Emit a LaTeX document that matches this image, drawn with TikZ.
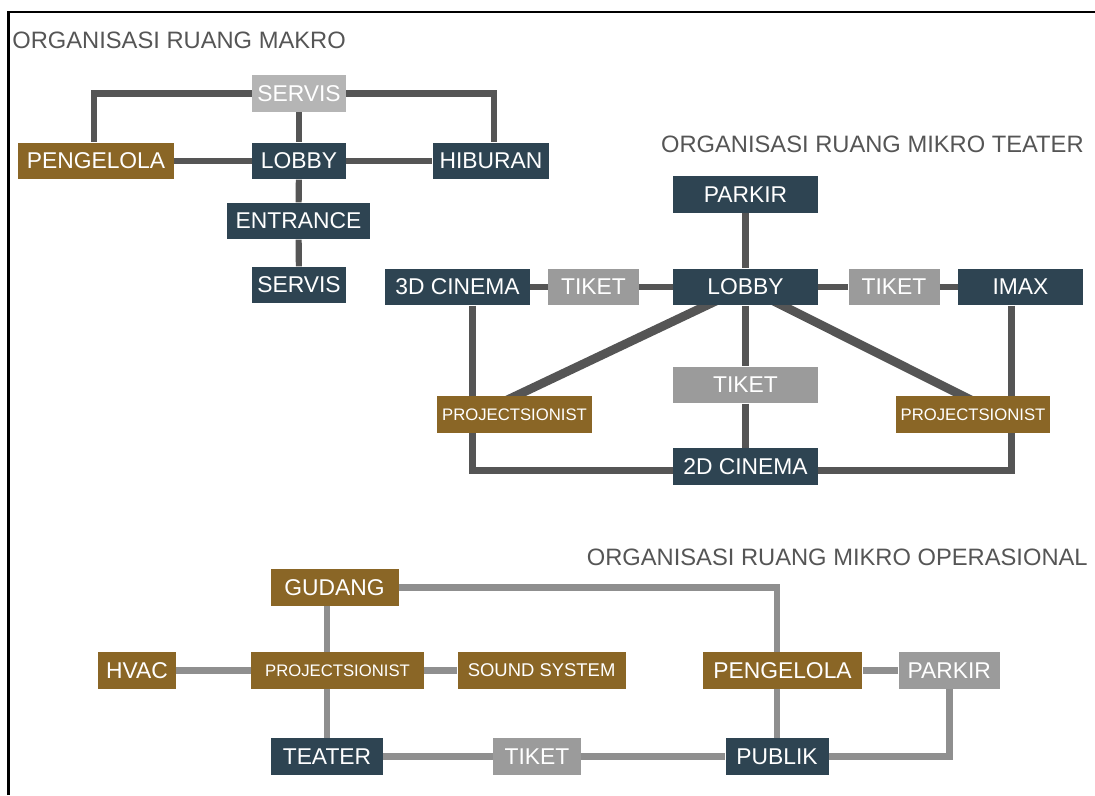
\documentclass[tikz,border=0pt]{standalone}
\usepackage{fontspec}
\setmainfont{Liberation Sans}
\usepackage{xcolor}
\usetikzlibrary{calc,backgrounds}

\definecolor{navy}{HTML}{2E4452}
\definecolor{ochre}{HTML}{8A6626}
\definecolor{tiketgrey}{HTML}{9B9B9B}
\definecolor{palegrey}{HTML}{B5B5B5}
\definecolor{darkline}{HTML}{555555}
\definecolor{lightline}{HTML}{8F8F8F}
\definecolor{titlegrey}{HTML}{555555}

\begin{document}
\begin{tikzpicture}[
    x=0.02cm,y=-0.02cm,
    room/.style={inner sep=0pt,minimum height=0.73cm,text=white,
      font=\fontsize{13}{13}\selectfont},
    navyroom/.style={room,fill=navy},
    ochreroom/.style={room,fill=ochre},
    tiketroom/.style={room,fill=tiketgrey},
    paleroom/.style={room,fill=palegrey},
    small/.style={font=\fontsize{9.5}{10}\selectfont},
    heading/.style={inner sep=0pt,text=titlegrey,font=\fontsize{13.5}{14}\selectfont},
    link/.style={draw=darkline,line width=3.5pt},
    diag/.style={draw=darkline,line width=5pt},
    opslink/.style={draw=lightline,line width=3.8pt}
  ]
    \useasboundingbox (0,0) rectangle (1095,795);
    \draw[line width=1.5pt] (8.5,795) -- (8.5,12) -- (1095,12);

    % makro
    \node[heading,anchor=base west] (tmakro) at (12,48) {ORGANISASI RUANG MAKRO};
    \node[paleroom,minimum width=1.88cm] (servisT) at (299,93.5) {SERVIS};
    \node[ochreroom,minimum width=3.12cm] (pengM) at (96,161) {PENGELOLA};
    \node[navyroom,minimum width=1.88cm] (lobbyM) at (299,161) {LOBBY};
    \node[navyroom,minimum width=2.34cm] (hiburan) at (491,161) {HIBURAN};
    \node[navyroom,minimum width=2.86cm] (entrance) at (298.5,221) {ENTRANCE};
    \node[navyroom,minimum width=1.88cm] (servisB) at (299,285) {SERVIS};

    \draw[link] (servisT.west) -| ($(pengM.north)+(-2,0)$);
    \draw[link] (servisT.east) -| ($(hiburan.north)+(3,0)$);
    \draw[link] (servisT) -- (lobbyM);
    \draw[link] (pengM) -- (lobbyM) -- (hiburan);
    \draw[link] (lobbyM) -- (entrance) -- (servisB);

    % mikro teater
    \node[heading,anchor=base east] (tteater) at (1084,152) {ORGANISASI RUANG MIKRO TEATER};
    \node[navyroom,minimum width=2.9cm] (parkirT) at (745.5,194.5) {PARKIR};
    \node[navyroom,minimum width=2.9cm] (cin3d) at (457.5,287) {3D CINEMA};
    \node[tiketroom,minimum width=1.82cm] (tiketL) at (593.5,287) {TIKET};
    \node[navyroom,minimum width=2.9cm] (lobbyT) at (745.5,287) {LOBBY};
    \node[tiketroom,minimum width=1.82cm] (tiketR) at (894,287) {TIKET};
    \node[navyroom,minimum width=2.5cm] (imax) at (1020.5,287) {IMAX};
    \node[tiketroom,minimum width=2.9cm] (tiketM) at (745.5,385) {TIKET};
    \node[ochreroom,small,minimum width=3.1cm] (projL) at (514.5,414.5) {PROJECTSIONIST};
    \node[ochreroom,small,minimum width=3.1cm] (projR) at (973,414.5) {PROJECTSIONIST};
    \node[navyroom,minimum width=2.9cm] (cin2d) at (745.5,466.5) {2D CINEMA};

    \draw[link] (parkirT) -- (lobbyT);
    \draw[link] (cin3d) -- (tiketL) -- (lobbyT) -- (tiketR) -- (imax);
    \draw[link] (lobbyT) -- (tiketM) -- (cin2d);
    \begin{scope}[on background layer]
      \draw[diag] (lobbyT.center) -- ($(projL.center)+(-38,0)$);
      \draw[diag] (lobbyT.center) -- ($(projR.center)+(27,0)$);
      \draw[link] ($(cin3d.south)+(15,0)$) |- ($(cin2d.west)+(0,4)$);
      \draw[link] ($(imax.south)+(-9,0)$) |- ($(cin2d.east)+(0,4)$);
    \end{scope}

    % mikro operasional
    \node[heading,anchor=base east] (tops) at (1088,565) {ORGANISASI RUANG MIKRO OPERASIONAL};
    \node[ochreroom,minimum width=2.56cm] (gudang) at (334.6,587.5) {GUDANG};
    \node[ochreroom,minimum width=1.56cm] (hvac) at (137,670.5) {HVAC};
    \node[ochreroom,small,minimum width=3.46cm] (projO) at (337.5,670.5) {PROJECTSIONIST};
    \node[ochreroom,minimum width=3.36cm,font=\fontsize{10.5}{11}\selectfont] (sound) at (541.6,670.5) {SOUND SYSTEM};
    \node[ochreroom,minimum width=3.2cm] (pengO) at (782.5,670.5) {PENGELOLA};
    \node[tiketroom,minimum width=2.02cm] (parkirO) at (949.3,670.5) {PARKIR};
    \node[navyroom,minimum width=2.24cm] (teater) at (327,756.5) {TEATER};
    \node[tiketroom,minimum width=1.76cm] (tiketO) at (537,756.5) {TIKET};
    \node[navyroom,minimum width=2.06cm] (publik) at (777,756.5) {PUBLIK};

    \begin{scope}[on background layer]
      \draw[opslink] (gudang.east) -| (publik.north);
      \draw[opslink] (teater.north) -- (teater.north |- gudang.south);
    \end{scope}
    \draw[opslink] (hvac) -- (projO) -- (sound);
    \draw[opslink] (pengO) -- (parkirO);
    \draw[opslink] (teater) -- (tiketO) -- (publik);
    \draw[opslink] (parkirO.south) |- (publik.east);
  \end{tikzpicture}
\end{document}
